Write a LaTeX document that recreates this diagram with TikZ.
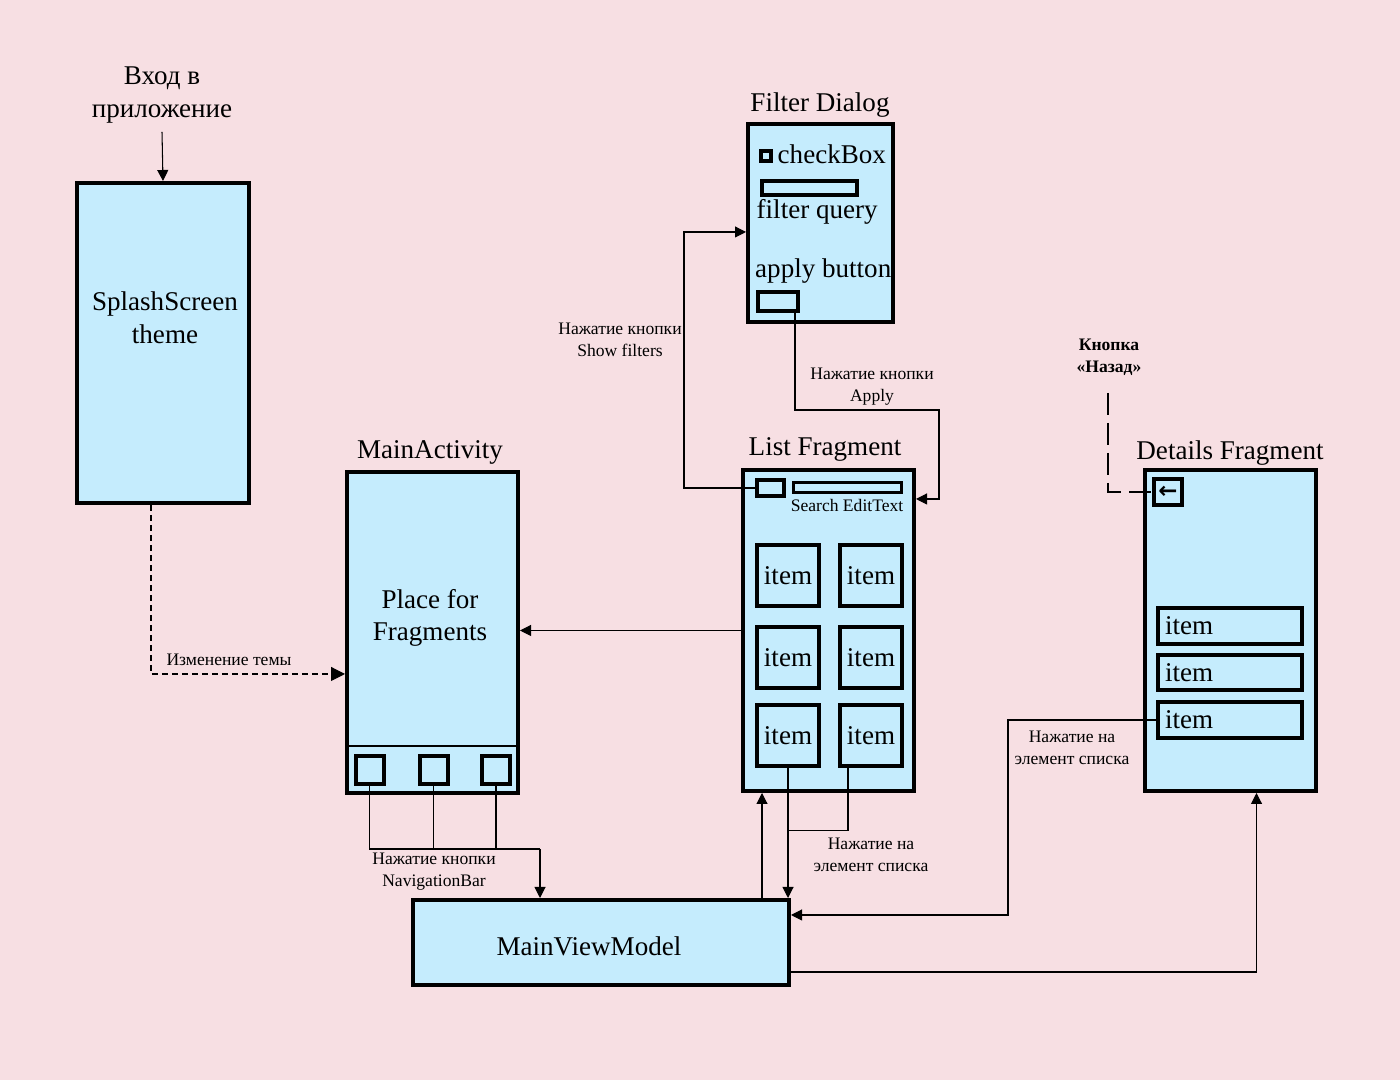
\documentclass[tikz,border=0pt]{standalone}
\usepackage{fontspec}
\setmainfont{Liberation Serif}
\newfontfamily\symfont{DejaVu Sans}
\usetikzlibrary{arrows.meta}
\definecolor{bgpink}{RGB}{247,223,227}
\definecolor{boxblue}{RGB}{197,236,253}
\tikzset{
  screen/.style={shape=rectangle,draw=black,fill=boxblue,line width=0.04cm,inner sep=0pt,minimum width=1.71cm,minimum height=3.21cm},
  widget/.style={shape=rectangle,draw=black,fill=boxblue,line width=0.04cm,inner sep=0pt},
  bigtext/.style={font=\fontsize{7.7}{9.3}\selectfont,align=center,inner sep=0pt},
  smalltext/.style={font=\fontsize{5}{6.2}\selectfont,align=center,inner sep=0pt},
  wire/.style={draw=black,line width=0.3pt},
  arr/.style={wire,-{Triangle[length=0.11cm,width=0.11cm]}},
}

\begin{document}
\begin{tikzpicture}
\useasboundingbox[fill=bgpink] (0,0) rectangle (14,10.8);
\node[screen,minimum width=1.72cm,minimum height=3.2cm] (0) at (1.63,7.37) {};
\node[screen] (1) at (4.325,4.475) {};
\node[screen,minimum width=1.45cm,minimum height=1.98cm] (2) at (8.205,8.57) {};
\node[screen] (3) at (8.285,4.495) {};
\node[screen] (4) at (12.305,4.495) {};
\node[screen,minimum width=3.76cm,minimum height=0.85cm] (5) at (6.01,1.375) {};
\node[widget,minimum width=0.27cm,minimum height=0.16cm] (6) at (7.705,5.92) {};
\node[widget,line width=0.03cm,minimum width=1.08cm,minimum height=0.1cm] (7) at (8.475,5.925) {};
\node[widget,minimum width=0.4cm,minimum height=0.19cm] (8) at (7.78,7.785) {};
\node[widget,minimum size=0.1cm] (9) at (7.66,9.24) {};
\node[widget,minimum width=0.95cm,minimum height=0.14cm] (10) at (8.095,8.92) {};
\node[widget,minimum size=0.28cm] (11) at (3.695,3.1) {};
\node[widget,minimum size=0.28cm] (12) at (4.335,3.1) {};
\node[widget,minimum size=0.28cm] (13) at (4.96,3.1) {};
\node[widget,bigtext,minimum width=0.62cm,minimum height=0.61cm] (14) at (7.88,5.045) {item};
\node[widget,bigtext,minimum width=0.62cm,minimum height=0.61cm] (15) at (8.71,5.045) {item};
\node[widget,bigtext,minimum width=0.62cm,minimum height=0.61cm] (16) at (7.88,4.225) {item};
\node[widget,bigtext,minimum width=0.62cm,minimum height=0.61cm] (17) at (8.71,4.225) {item};
\node[widget,bigtext,minimum width=0.62cm,minimum height=0.61cm] (18) at (7.88,3.44) {item};
\node[widget,bigtext,minimum width=0.62cm,minimum height=0.61cm] (19) at (8.71,3.44) {item};
\node[widget,minimum width=0.28cm,minimum height=0.26cm,font=\symfont\bfseries\fontsize{6.5}{7}\selectfont] (20) at (11.68,5.88) {←};
\node[widget,bigtext,text width=1.3cm,align=left,minimum width=1.44cm,minimum height=0.36cm] (21) at (12.3,4.54) {item};
\node[widget,bigtext,text width=1.3cm,align=left,minimum width=1.44cm,minimum height=0.35cm] (22) at (12.3,4.075) {item};
\node[widget,bigtext,text width=1.3cm,align=left,minimum width=1.44cm,minimum height=0.36cm] (23) at (12.3,3.6) {item};

\node[bigtext] (24) at (1.62,9.85) {Вход в\\приложение};
\node[bigtext] (25) at (1.65,7.62) {SplashScreen\\theme};
\node[bigtext] (26) at (4.3,6.28) {MainActivity};
\node[bigtext] (27) at (4.3,4.62) {Place for\\Fragments};
\node[bigtext] (28) at (8.2,9.75) {Filter Dialog};
\node[bigtext,anchor=west] (29) at (7.77,9.26) {checkBox};
\node[bigtext,anchor=west] (30) at (7.56,8.68) {filter query};
\node[bigtext,anchor=west] (31) at (7.545,8.09) {apply button};
\node[bigtext] (32) at (8.25,6.31) {List Fragment};
\node[smalltext] (33) at (8.47,5.74) {Search EditText};
\node[bigtext] (34) at (12.3,6.27) {Details Fragment};
\node[bigtext] (35) at (5.89,1.34) {MainViewModel};
\node[smalltext] (36) at (2.29,4.2) {Изменение темы};
\node[smalltext] (37) at (6.2,7.4) {Нажатие кнопки\\Show filters};
\node[smalltext] (38) at (8.72,6.93) {Нажатие кнопки\\Apply};
\node[smalltext] (39) at (4.34,2.08) {Нажатие кнопки\\NavigationBar};
\node[smalltext] (40) at (8.71,2.25) {Нажатие на\\элемент списка};
\node[smalltext] (41) at (10.72,3.32) {Нажатие на\\элемент списка};
\node[smalltext,font=\fontsize{5}{6.2}\selectfont\bfseries] (42) at (11.09,7.23) {Кнопка\\«Назад»};

\coordinate (n) at (5.4,2.31);
\coordinate (k) at (11.08,6.87);
\path ([xshift=-0.665cm]3.south) coordinate (p);

\draw [arr] ([yshift=-0.08cm]24.south) -- (0.north);
\draw [arr,dash pattern=on 0.06cm off 0.04cm,-{Triangle[length=0.14cm,width=0.14cm]}] ([xshift=-0.12cm]0.south) |- ([yshift=-0.415cm]1.west);
\draw [arr] (3.west) -- (3.west -| 1.east);
\draw [arr] (6.west) -- ++(-0.71,0) |- ([yshift=-0.09cm]2.west);
\draw [arr] ([xshift=0.17cm]8.south) |- ++(1.44,-0.97) |- ([yshift=1.315cm]3.east);
\draw [wire] (11.south) |- (n);
\draw [wire] (12.south) -- (12.south |- n);
\draw [wire] (13.south) -- (13.south |- n);
\draw [arr] (n) -- (n |- 5.north);
\draw [arr] (p |- 5.north) -- (p);
\draw [arr] (18.south) -- (18.south |- 5.north);
\draw [wire] ([xshift=-0.23cm]19.south) -- ++(0,-0.62) -| (18.south);
\draw [arr] (23.west) -- ++(-1.48,0) |- ([yshift=0.275cm]5.east);
\draw [arr] ([yshift=-0.295cm]5.east) -| ([xshift=0.26cm]4.south);
\draw [wire,dash pattern=on 0.22cm off 0.08cm] (k) |- (20.west);
\draw [wire] ([yshift=-1.135cm]1.west) -- ([yshift=-1.135cm]1.east);
\end{tikzpicture}
\end{document}
